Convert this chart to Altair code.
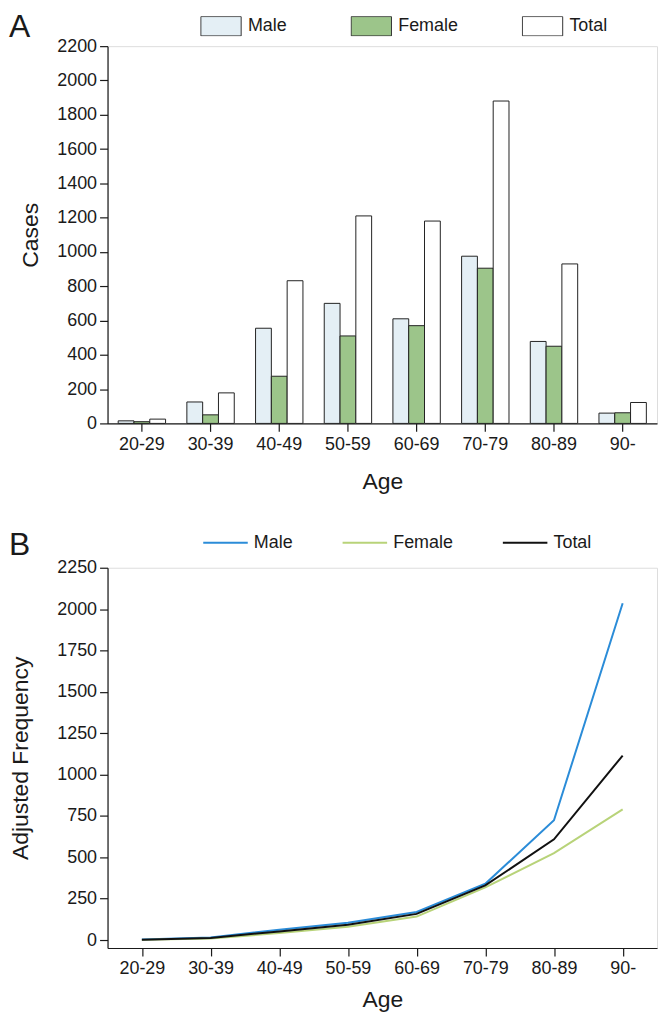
import altair as alt
import pandas as pd

ages = ["20-29", "30-39", "40-49", "50-59", "60-69", "70-79", "80-89", "90-"]
groups = ["Male", "Female", "Total"]

cases_male = [15, 125, 555, 700, 610, 975, 478, 60]
cases_female = [10, 50, 275, 510, 570, 905, 450, 62]
cases_total = [25, 178, 832, 1210, 1180, 1880, 930, 122]

freq_male = [3, 16, 62, 104, 170, 340, 724, 2035]
freq_female = [1, 10, 42, 80, 142, 318, 525, 790]
freq_total = [2, 13, 52, 92, 158, 330, 609, 1115]

bar_colors = ["#e4eff5", "#9cc58a", "#ffffff"]
line_colors = ["#2b8cd8", "#b8d379", "#111111"]

FONT = "Liberation Sans"

rows_a = []
for g, vals in zip(groups, [cases_male, cases_female, cases_total]):
    for a, v in zip(ages, vals):
        rows_a.append({"age": a, "group": g, "value": v})
df_a = pd.DataFrame(rows_a)

rows_b = []
for g, vals in zip(groups, [freq_male, freq_female, freq_total]):
    for a, v in zip(ages, vals):
        rows_b.append({"age": a, "group": g, "value": v})
df_b = pd.DataFrame(rows_b)

axis_common = dict(
    labelFont=FONT, titleFont=FONT, labelFontSize=18, titleFontSize=23,
    titleFontWeight="normal", labelColor="#1a1a1a", titleColor="#1a1a1a",
    domainColor="#1a1a1a", tickColor="#1a1a1a", tickSize=8, grid=False,
    domainWidth=1.2, tickWidth=1.2,
)


def panel_label(letter, y):
    return alt.Chart(pd.DataFrame({"t": [letter]})).mark_text(
        align="left", baseline="alphabetic", fontSize=32, font=FONT, color="#1a1a1a"
    ).encode(text="t:N", x=alt.value(-99), y=alt.value(y))


bars = alt.Chart(df_a).mark_bar(stroke="#222222", strokeWidth=1).encode(
    x=alt.X("age:N", sort=ages, title="Age",
            scale=alt.Scale(paddingInner=0.31, paddingOuter=0.155),
            axis=alt.Axis(labelAngle=0, labelPadding=4, titlePadding=17, **axis_common)),
    xOffset=alt.XOffset("group:N", sort=groups, scale=alt.Scale(paddingInner=0, paddingOuter=0)),
    y=alt.Y("value:Q", title="Cases",
            scale=alt.Scale(domain=[0, 2200], nice=False),
            axis=alt.Axis(values=list(range(0, 2201, 200)), format="d", labelPadding=3,
                          titlePadding=14, **axis_common)),
    fill=alt.Fill("group:N", sort=groups,
                  scale=alt.Scale(domain=groups, range=bar_colors),
                  legend=alt.Legend(
                      title=None, orient="none", direction="horizontal",
                      legendX=93, legendY=-30, clipHeight=20,
                      symbolType="M-1,-0.48H1V0.48H-1Z", symbolSize=1640,
                      symbolStrokeColor="#333333", symbolStrokeWidth=1,
                      labelFont=FONT, labelFontSize=18, labelColor="#1a1a1a",
                      labelOffset=6, columnPadding=63)),
)

chart_a = alt.layer(bars, panel_label("A", -9)).properties(width=552, height=379)

lines = alt.Chart(df_b).mark_line(strokeWidth=2).encode(
    x=alt.X("age:O", sort=ages, title="Age",
            scale=alt.Scale(type="point", padding=0.5),
            axis=alt.Axis(labelAngle=0, labelPadding=4, titlePadding=11, **axis_common)),
    y=alt.Y("value:Q", title="Adjusted Frequency",
            scale=alt.Scale(domain=[-48, 2250], nice=False, zero=False),
            axis=alt.Axis(values=list(range(0, 2251, 250)), format="d", labelPadding=3,
                          titlePadding=24, **axis_common)),
    color=alt.Color("group:N", sort=groups,
                    scale=alt.Scale(domain=groups, range=line_colors),
                    legend=alt.Legend(
                        title=None, orient="none", direction="horizontal",
                        legendX=95, legendY=-34, clipHeight=18,
                        symbolType="stroke", symbolSize=2000, symbolStrokeWidth=2,
                        labelFont=FONT, labelFontSize=18, labelColor="#1a1a1a",
                        labelOffset=5, columnPadding=48)),
)

chart_b = alt.layer(lines, panel_label("B", -13)).properties(width=552, height=382)

chart = alt.vconcat(chart_a, chart_b, spacing=34).resolve_scale(
    color="independent", fill="independent"
).properties(padding=0).configure_view(stroke=None).configure(background="white")

chart.save("out.html", embed_options={"renderer": "svg", "actions": False})
